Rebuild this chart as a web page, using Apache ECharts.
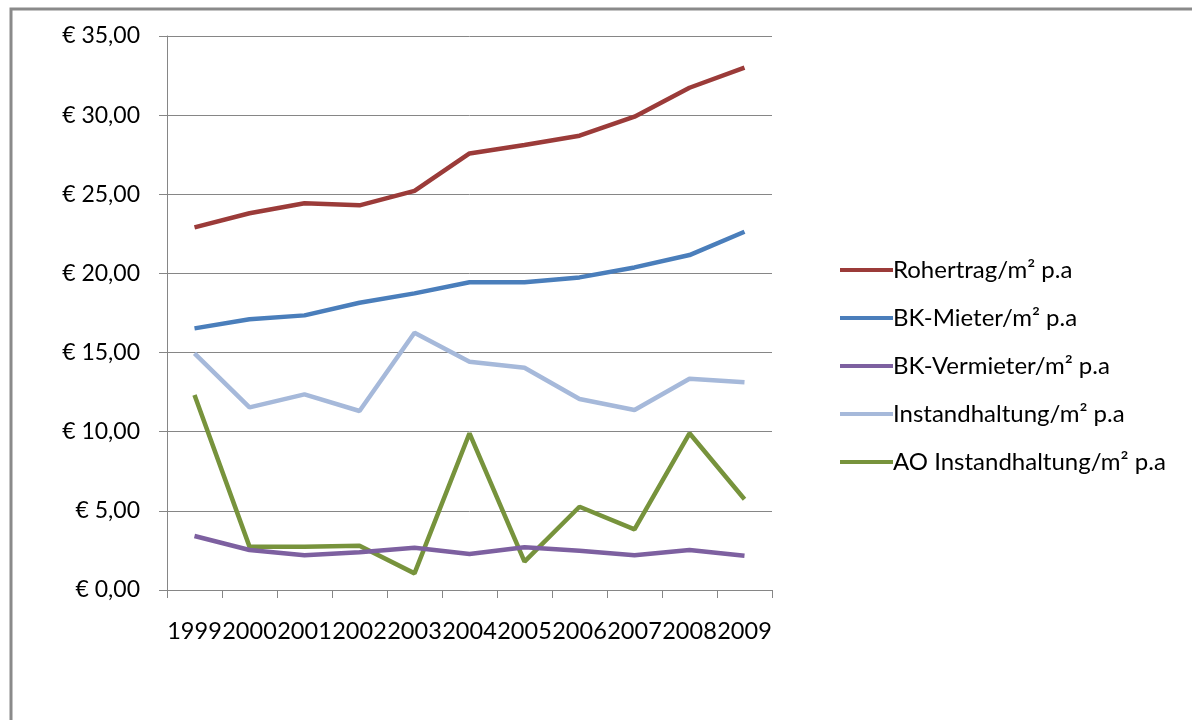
<!DOCTYPE html>
<html>
<head>
<meta charset="utf-8">
<script src="https://cdn.jsdelivr.net/npm/echarts@6/dist/echarts.min.js"></script>
<style>
html,body{margin:0;padding:0;background:#fff;overflow:hidden;}
#chart{width:1192px;height:720px;}
</style>
</head>
<body>
<div id="chart"></div>
<script>
const years = ['1999','2000','2001','2002','2003','2004','2005','2006','2007','2008','2009'];
const rohertrag = [22.91, 23.80, 24.43, 24.30, 25.22, 27.58, 28.11, 28.70, 29.90, 31.73, 33.00];
const bkMieter = [16.53, 17.10, 17.35, 18.15, 18.74, 19.44, 19.44, 19.75, 20.38, 21.16, 22.63];
const bkVermieter = [3.41, 2.53, 2.19, 2.38, 2.67, 2.27, 2.70, 2.48, 2.19, 2.53, 2.17];
const instandhaltung = [14.95, 11.54, 12.36, 11.31, 16.25, 14.42, 14.04, 12.07, 11.37, 13.35, 13.12];
const aoInstandhaltung = [12.32, 2.74, 2.74, 2.80, 1.05, 9.90, 1.79, 5.26, 3.83, 9.90, 5.73];
const seriesNames = ['Rohertrag/m² p.a','BK-Mieter/m² p.a','BK-Vermieter/m² p.a','Instandhaltung/m² p.a','AO Instandhaltung/m² p.a'];
const seriesColors = ['#9B3B39','#4A7EBB','#7D60A0','#A6B9DA','#77933C'];
const seriesData = [rohertrag, bkMieter, bkVermieter, instandhaltung, aoInstandhaltung];

const FONT = 'Lato';
const chart = echarts.init(document.getElementById('chart'));
chart.setOption({
  animation: false,
  backgroundColor: '#fff',
  graphic: [{
    type: 'polyline',
    shape: {points: [[11, 800], [11, 9], [1300, 9]]},
    style: {fill: null, stroke: '#8a8a8a', lineWidth: 3},
    silent: true
  }],
  grid: {left: 167, right: 420, top: 36, bottom: 130, containLabel: false},
  legend: {
    orient: 'vertical',
    left: 835,
    top: 251,
    itemWidth: 53,
    itemHeight: 4,
    itemGap: 20,
    icon: 'rect',
    textStyle: {fontFamily: FONT, fontSize: 24, color: '#000', lineHeight: 28, padding: [0,0,0,-5]},
    data: seriesNames
  },
  xAxis: {
    type: 'category',
    data: years,
    boundaryGap: true,
    axisLine: {lineStyle: {color: '#868686', width: 1}},
    axisTick: {show: true, length: 8, lineStyle: {color: '#868686'}},
    axisLabel: {interval: 0, fontFamily: FONT, fontSize: 23.5, color: '#000', margin: 29}
  },
  yAxis: {
    type: 'value',
    min: 0, max: 35, interval: 5,
    axisLine: {show: true, lineStyle: {color: '#868686', width: 1}},
    axisTick: {show: true, length: 8, lineStyle: {color: '#868686'}},
    splitLine: {lineStyle: {color: '#868686', width: 1}},
    axisLabel: {
      fontFamily: FONT, fontSize: 23, color: '#000', margin: 27,
      formatter: v => '€ ' + v.toFixed(2).replace('.', ',')
    }
  },
  series: seriesNames.map((n, i) => ({
    name: n,
    type: 'line',
    data: seriesData[i],
    symbol: 'none',
    color: seriesColors[i],
    lineStyle: {width: 4.5, color: seriesColors[i]},
    z: 10 - i
  }))
});
</script>
</body>
</html>
